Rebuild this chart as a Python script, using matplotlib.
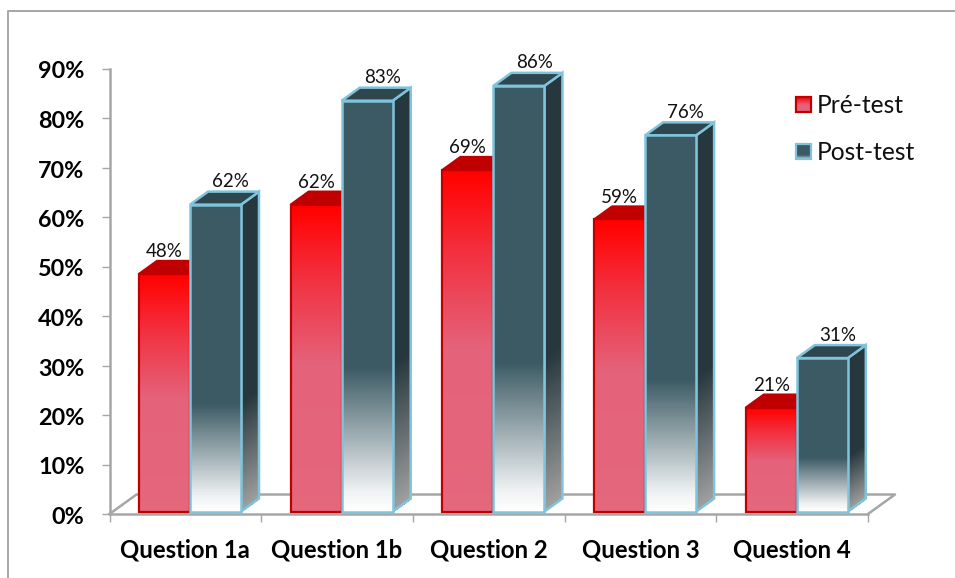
import numpy as np
import matplotlib
matplotlib.use('Agg')
import matplotlib.pyplot as plt
from matplotlib.patches import Polygon, Rectangle
from matplotlib.lines import Line2D
from matplotlib.transforms import ScaledTranslation

# Data
categories = ['Question 1a', 'Question 1b', 'Question 2', 'Question 3', 'Question 4']
pre_test = [48, 62, 69, 59, 21]
post_test = [62, 83, 86, 76, 31]
y_ticks = [0, 10, 20, 30, 40, 50, 60, 70, 80, 90]

plt.rcParams['font.family'] = ['Lato', 'DejaVu Sans']

W, H = 955, 578
fig = plt.figure(figsize=(W / 100, H / 100), dpi=100)
ax = fig.add_axes([109.5 / W, (H - 514) / H, 758.5 / W, 445.5 / H])
ax.set_xlim(0, 5)
ax.set_ylim(0, 90)
ax.patch.set_visible(False)

# 3D depth in data units
dx = 18 / 151.7
dy = 13 / 4.95
bar_w = 51 / 151.7
gap = 29.5 / 151.7
base = 0.5


def hex_rgb(c):
    return np.array(matplotlib.colors.to_rgb(c))


def ramp(stops, n=400):
    t = np.linspace(0, 1, n)
    cols = np.array([hex_rgb(c) for _, c in stops])
    pos = [p for p, _ in stops]
    return np.stack([np.interp(t, pos, cols[:, i]) for i in range(3)], axis=1)


def quad(x0, x1, y0, y1, skew_y, stops, z):
    # face with vertical gradient, skew makes the right side go up
    n = 400
    cols = ramp(stops, n)[:, None, :]
    ys = np.linspace(y0, y1, n + 1)
    X = np.array([[x0, x1]] * (n + 1))
    Y = np.stack([ys, ys + skew_y], axis=1)
    ax.pcolormesh(X, Y, cols, zorder=z, clip_on=False, linewidth=0, antialiased=False)


red_front = [(0, '#E4677C'), (0.48, '#E4627A'), (0.76, '#F2303F'), (0.97, '#FF0505'), (1, '#FF0000')]
dark_front = [(0, '#FFFFFF'), (0.05, '#EEF1F2'), (0.35, '#3C5A64'), (1, '#3C5A64')]
dark_side = [(0, '#A0A0A0'), (0.36, '#26373D'), (1, '#26373D')]

# floor of the chart
floor_x = [0, dx * 1.5, 5 + dx * 1.5, 5]
floor_y = [0, dy * 1.5, dy * 1.5, 0]
ax.plot(floor_x, floor_y, color='#A6A6A6', lw=1.8, zorder=1, clip_on=False)


def draw_bar(x, v, stops, top_col, edge, z, side_stops=None, lw=1.6):
    y0 = base
    top = v + base
    if side_stops is not None:
        quad(x + bar_w, x + bar_w + dx, y0, top, dy, side_stops, z)
        ax.add_patch(Polygon([(x + bar_w, y0), (x + bar_w + dx, y0 + dy), (x + bar_w + dx, top + dy), (x + bar_w, top)],
                             closed=True, fill=False, ec=edge, lw=lw, zorder=z + 1, clip_on=False))
    ax.add_patch(Polygon([(x, top), (x + dx, top + dy), (x + bar_w + dx, top + dy), (x + bar_w, top)],
                         closed=True, fc=top_col, ec=edge, lw=lw, zorder=z + 1, clip_on=False))
    quad(x, x + bar_w, y0, top, 0, stops, z + 2)
    ax.add_patch(Rectangle((x, y0), bar_w, top - y0, fill=False, ec=edge, lw=lw, zorder=z + 3, clip_on=False))


for i in range(len(categories)):
    x = i + gap
    draw_bar(x, pre_test[i], red_front, '#C00000', '#C00000', 3 + i * 10)
    draw_bar(x + bar_w, post_test[i], dark_front, '#2E464D', '#7FC4DC', 7 + i * 10,
             side_stops=dark_side, lw=1.8)
    ax.text(x + bar_w * 0.5, pre_test[i] + dy + 0.6, '%d%%' % pre_test[i], ha='center', va='bottom',
            fontsize=13.5, color='#111111', zorder=100)
    ax.text(x + bar_w * 1.5 + dx * 0.85, post_test[i] + dy + 0.8, '%d%%' % post_test[i], ha='center', va='bottom',
            fontsize=13.5, color='#111111', zorder=100)

# axes
for s in ['top', 'right']:
    ax.spines[s].set_visible(False)
for s in ['left', 'bottom']:
    ax.spines[s].set_color('#A6A6A6')
    ax.spines[s].set_linewidth(1.8)
ax.set_yticks(y_ticks)
ax.set_yticklabels(['%d%%' % v for v in y_ticks], fontsize=16.8, fontweight='bold')
ax.set_xticks(range(6))
ax.set_xticklabels([])
ax.tick_params(axis='y', length=6, width=1, color='#A6A6A6', pad=12)
ax.tick_params(axis='x', length=6, width=1, color='#A6A6A6')
nudge = ScaledTranslation(0, -1.5 / 100, fig.dpi_scale_trans)
for lab in ax.get_yticklabels():
    lab.set_transform(lab.get_transform() + nudge)
for i, c in enumerate(categories):
    ax.text(i + 0.5, -7.2, c, ha='center', va='center', fontsize=17.2, fontweight='bold', color='black')


# legend
def legend_item(py, label, stops, edge):
    lax = fig.add_axes([795.5 / W, (H - py - 8) / H, 15 / W, 15 / H])
    lax.axis('off')
    lax.imshow(ramp(stops, 20)[:, None, :], origin='lower', extent=[0, 1, 0, 1], aspect='auto')
    lax.add_patch(Rectangle((0, 0), 1, 1, fill=False, ec=edge, lw=1.6, clip_on=False))
    fig.text(817 / W, (H - py - 1.5) / H, label, fontsize=17.7, va='center', ha='left', color='#111111')


legend_item(104, 'Pré-test', red_front, '#C00000')
legend_item(151, 'Post-test', [(0, '#C0C8CA'), (0.25, '#3C5A64'), (1, '#3C5A64')], '#7FC4DC')

# outer frame, only left and top are visible
frame = Line2D([8 / W, 8 / W, 1], [0, (H - 11) / H, (H - 11) / H],
               transform=fig.transFigure, color='#A6A6A6', lw=1.4)
fig.add_artist(frame)

fig.savefig('out.png', dpi=100)
